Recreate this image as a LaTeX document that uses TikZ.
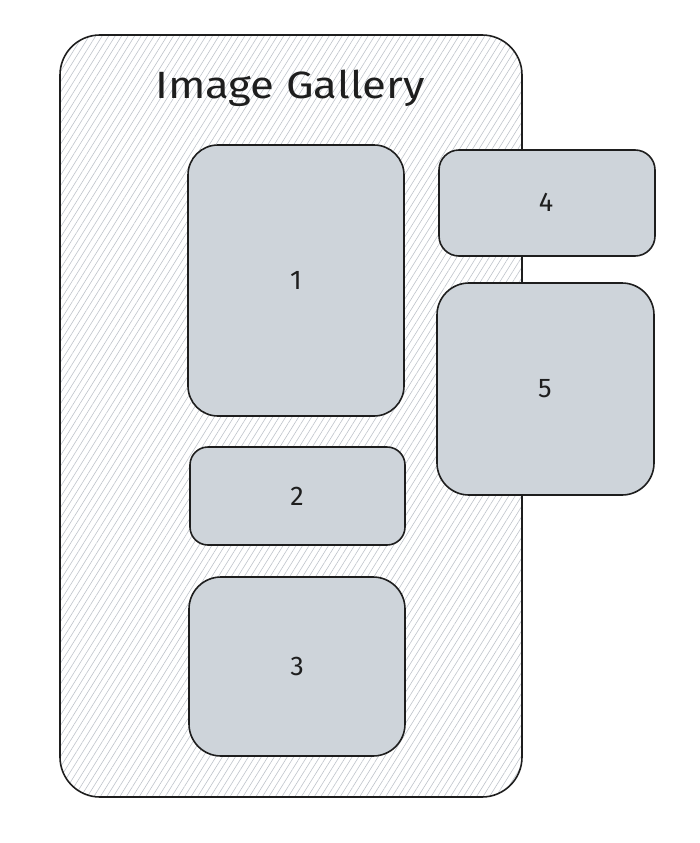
\documentclass[tikz,border=0pt]{standalone}
\usepackage{fontspec}
\setmainfont{Fira Sans}
\usetikzlibrary{patterns.meta}
\definecolor{boxgray}{RGB}{206,212,218}
\definecolor{hatch}{RGB}{190,195,202}
\definecolor{ink}{RGB}{30,30,30}
\tikzset{
  card/.style={draw=ink, line width=1.6pt, fill=boxgray},
  cardlabel/.style={font=\fontsize{27}{32}\selectfont, text=ink},
}
\begin{document}
\begin{tikzpicture}[x=1pt,y=-1pt]
\useasboundingbox (0,0) rectangle (700,843);
% container
\path[pattern={Lines[angle=58,distance=5.5pt,line width=0.6pt]}, pattern color=hatch, rounded corners=40pt]
  (60,35) rectangle (522,797);
\draw[draw=ink, line width=1.6pt, rounded corners=40pt] (60,35) rectangle (522,797);
\node[font=\fontsize{38}{44}\selectfont, text=ink, xscale=1.15] (title) at (290,88) {Image Gallery};
% cards
\draw[card, rounded corners=30pt] (188,145) rectangle (404,416);
\node[cardlabel] (n1) at (296,280) {1};
\draw[card, rounded corners=18pt] (190,447) rectangle (405,545);
\node[cardlabel] (n2) at (297,496) {2};
\draw[card, rounded corners=32pt] (189,577) rectangle (405,756);
\node[cardlabel] (n3) at (297,666) {3};
\draw[card, rounded corners=20pt] (439,150) rectangle (655,256);
\node[cardlabel] (n4) at (546,202) {4};
\draw[card, rounded corners=32pt] (437,283) rectangle (654,495);
\node[cardlabel] (n5) at (545,389) {5};
\end{tikzpicture}
\end{document}
